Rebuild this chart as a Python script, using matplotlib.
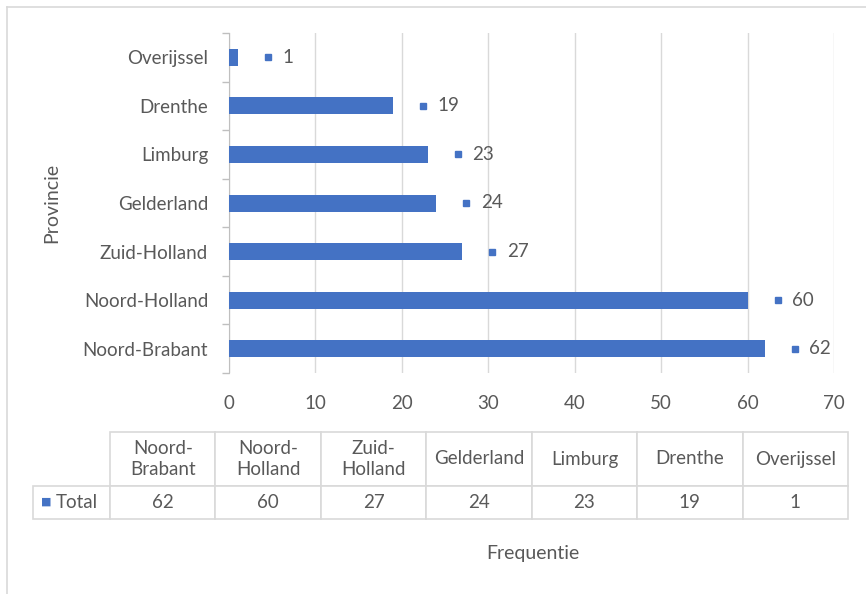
import numpy as np
import matplotlib.pyplot as plt
from matplotlib.lines import Line2D
from matplotlib.transforms import ScaledTranslation

plt.rcParams['font.family'] = ['Lato', 'DejaVu Sans']

# data (bottom -> top on the chart)
provinces = ['Noord-Brabant', 'Noord-Holland', 'Zuid-Holland', 'Gelderland',
             'Limburg', 'Drenthe', 'Overijssel']
counts = [62, 60, 27, 24, 23, 19, 1]
header = ['Noord-\nBrabant', 'Noord-\nHolland', 'Zuid-\nHolland', 'Gelderland',
          'Limburg', 'Drenthe', 'Overijssel']
xticks = [0, 10, 20, 30, 40, 50, 60, 70]

blue = '#4472C4'
txt = '#595959'
grid = '#D9D9D9'
fs = 13.5

fig = plt.figure(figsize=(8.66, 5.94), dpi=100)
W, H = 866, 594
ax = fig.add_axes([229 / W, 1 - 373 / H, (834 - 229) / W, (373 - 33) / H])

ypos = np.arange(len(provinces))
ax.barh(ypos, counts, height=0.35, color=blue, zorder=3)

# data labels: small square + value
shift = ax.transData + ScaledTranslation(0.30, 0, fig.dpi_scale_trans)
for y, v in zip(ypos, counts):
    ax.plot(v, y, marker='s', ms=4.5, color=blue, zorder=4,
            transform=shift, clip_on=False)
    ax.annotate(str(v), (v, y), xytext=(32, 0), textcoords='offset points',
                va='center', ha='left', fontsize=fs, color=txt)

ax.set_xlim(0, 70)
ax.set_ylim(-0.5, len(provinces) - 0.5)
ax.set_xticks(xticks)
ax.set_yticks(ypos)
ax.set_yticklabels(provinces)
ax.set_yticks(np.arange(-0.5, len(provinces), 1), minor=True)
ax.tick_params(axis='y', which='major', length=0, pad=15, labelsize=fs, labelcolor=txt)
ax.tick_params(axis='y', which='minor', length=5, color='#BFBFBF', width=1)
ax.tick_params(axis='x', length=0, pad=16, labelsize=fs, labelcolor=txt)
ax.grid(axis='x', color=grid, lw=1, zorder=0)
for s in ['top', 'right', 'bottom']:
    ax.spines[s].set_visible(False)
ax.spines['left'].set_color('#BFBFBF')
ax.set_ylabel('Provincie', fontsize=fs + 0.5, color=txt, labelpad=16)

# data table under the chart
x0, xl, x1 = 33, 110, 848
ytop, ymid, ybot = 432, 486, 519
cw = (x1 - xl) / len(header)
tab = ax.table(cellText=[[''] + [str(c) for c in counts]],
               colLabels=[''] + header,
               colWidths=[xl - x0] + [cw] * len(header),
               cellLoc='center',
               bbox=[(x0 - 229) / 605, (373 - ybot) / 340, (x1 - x0) / 605, (ybot - ytop) / 340])
tab.auto_set_font_size(False)
for (r, c), cell in tab.get_celld().items():
    cell.set_edgecolor(grid)
    cell.set_linewidth(1.2)
    cell.get_text().set_color(txt)
    cell.get_text().set_fontsize(fs)
    if r == 0:
        cell.set_height((ymid - ytop) / (ybot - ytop))
        cell.get_text().set_linespacing(1.25)
    else:
        cell.set_height((ybot - ymid) / (ybot - ytop))
    if r == 0 and c == 0:
        cell.visible_edges = ''

# legend key inside the row label cell
fig.text(41 / W, 1 - 502 / H, '■', color=blue, fontsize=8, va='center', ha='left',
         family='DejaVu Sans')
fig.text(56 / W, 1 - 502 / H, 'Total', color=txt, fontsize=fs, va='center', ha='left')

fig.text(533 / W, 1 - 553 / H, 'Frequentie', color=txt, fontsize=fs + 0.5, ha='center', va='center')

# chart area border (left and top visible)
fig.add_artist(Line2D([7 / W, 7 / W], [0, 1 - 7 / H], color=grid, lw=1.2))
fig.add_artist(Line2D([7 / W, 1], [1 - 7 / H, 1 - 7 / H], color=grid, lw=1.2))

fig.savefig('out.png', dpi=100)
